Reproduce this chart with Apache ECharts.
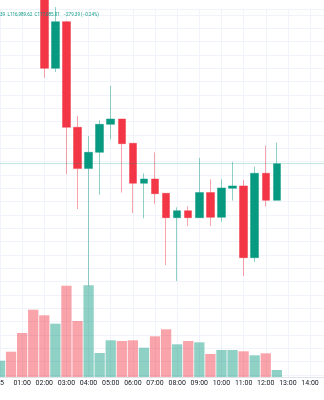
<!DOCTYPE html>
<html>
<head>
<meta charset="utf-8">
<script src="https://cdn.jsdelivr.net/npm/echarts@6/dist/echarts.min.js"></script>
<style>
  html, body { margin: 0; padding: 0; background: #ffffff; }
  #chart { width: 324px; height: 400px; }
</style>
</head>
<body>
<div id="chart"></div>
<script>
// 30-minute BTC candles, 25th, 00:00 - 12:30
const times = ['00:00','00:30','01:00','01:30','02:00','02:30','03:00','03:30','04:00','04:30',
               '05:00','05:30','06:00','06:30','07:00','07:30','08:00','08:30','09:00','09:30',
               '10:00','10:30','11:00','11:30','12:00','12:30'];
const opens  = [118600,118780,118610,118420,118360,117800,118150,117358,117048,117170,
                117380,117420,117238,116938,116970,116863,116680,116732,116680,116868,
                116683,116900,116918,116380,117013,116810];
const closes = [118780,118610,118420,118360,117800,118150,117358,117048,117170,117380,
                117420,117235,116938,116970,116860,116680,116732,116680,116868,116683,
                116903,116918,116380,117013,116810,117085.01];
const lows   = [118520,118560,118380,118300,117730,117773,117005,116745,116168,116852,
                117268,116868,116715,116675,116783,116325,116205,116616,116680,116616,
                116650,116808,116243,116348,116763,116810];
const highs  = [118850,118820,118650,118480,118400,118260,118155,117443,117293,117410,
                117668,117420,117240,117013,117170,116865,116758,116766,117128,116968,
                116968,117098,116963,117063,117220,117243];
const volumes = [163,253,440,673,617,533,913,560,917,240,
                 367,360,367,293,407,477,327,360,347,230,
                 270,270,257,217,237,70];
const dayLabel = '25';
// legend row: tail of the high, then low, close and change
const legendParts = ['39', 'L116,989.62', 'C117,085.01', '\u2212279.39 (\u22120.24%)'];
const legendX = [0, 7.5, 34.5, 63.5];
const lastClose = closes[closes.length - 1];

const UP = '#089981', DOWN = '#F23645';
const UP_SOFT = 'rgba(8,153,129,0.45)', DOWN_SOFT = 'rgba(242,54,69,0.45)';

function toHours(t) { const [h, m] = t.split(':').map(Number); return h + m / 60; }

const candleData = times.map((t, i) => [toHours(t), opens[i], closes[i], lows[i], highs[i]]);
const volumeData = times.map((t, i) => ({
  value: [toHours(t), volumes[i]],
  itemStyle: { color: closes[i] >= opens[i] ? 'rgba(8,153,129,0.45)' : 'rgba(242,54,69,0.45)' }
}));

const chart = echarts.init(document.getElementById('chart'), null, { renderer: 'canvas' });
chart.setOption({
  animation: false,
  backgroundColor: '#ffffff',
  grid: { left: 0, right: 0, top: 9, bottom: 23, containLabel: false, outerBoundsMode: 'none' },
  xAxis: {
    type: 'value', min: 0, max: 14.63, interval: 1,
    axisLine: { show: true, lineStyle: { color: '#e0e3eb' } },
    axisTick: { show: false },
    splitLine: { show: true, lineStyle: { color: '#f0f3fa', width: 1 } },
    axisLabel: {
      show: true, showMaxLabel: false, hideOverlap: false, color: '#131722', fontSize: 7,
      fontFamily: 'Roboto', margin: 3,
      formatter: v => {
        if (Math.abs(v - Math.round(v)) > 1e-6) return '';
        if (v === 0) return dayLabel;
        return String(Math.round(v)).padStart(2, '0') + ':00';
      }
    }
  },
  yAxis: [
    {
      type: 'value', min: 115485, max: 118245, splitNumber: 27, scale: true,
      axisLine: { show: false }, axisTick: { show: false }, axisLabel: { show: false },
      splitLine: { show: true, lineStyle: { color: '#f0f3fa', width: 1 } }
    },
    {
      type: 'value', min: 0, max: 3680,
      axisLine: { show: false }, axisTick: { show: false }, axisLabel: { show: false },
      splitLine: { show: false }
    }
  ],
  series: [
    {
      type: 'bar', yAxisIndex: 1, data: volumeData, barWidth: 10.3, z: 1
    },
    {
      type: 'candlestick', yAxisIndex: 0, data: candleData, barWidth: 8, z: 2,
      encode: { x: 0, y: [1, 2, 3, 4] },
      clip: true,
      itemStyle: {
        color: UP, color0: DOWN,
        borderColor: UP_SOFT, borderColor0: DOWN_SOFT,
        borderWidth: 1
      },
      markLine: {
        silent: true, symbol: ['none', 'none'],
        label: { show: false },
        lineStyle: { color: 'rgba(8,153,129,0.25)', type: 'solid', width: 1 },
        data: [{ yAxis: lastClose }]
      }
    }
  ],
  graphic: legendParts.map((txt, i) => ({
    type: 'text', x: legendX[i], y: 12.5, z: 10,
    style: { text: txt, fill: UP, font: '4.5px Roboto', textVerticalAlign: 'top', textAlign: 'left' }
  }))
});
</script>
</body>
</html>
